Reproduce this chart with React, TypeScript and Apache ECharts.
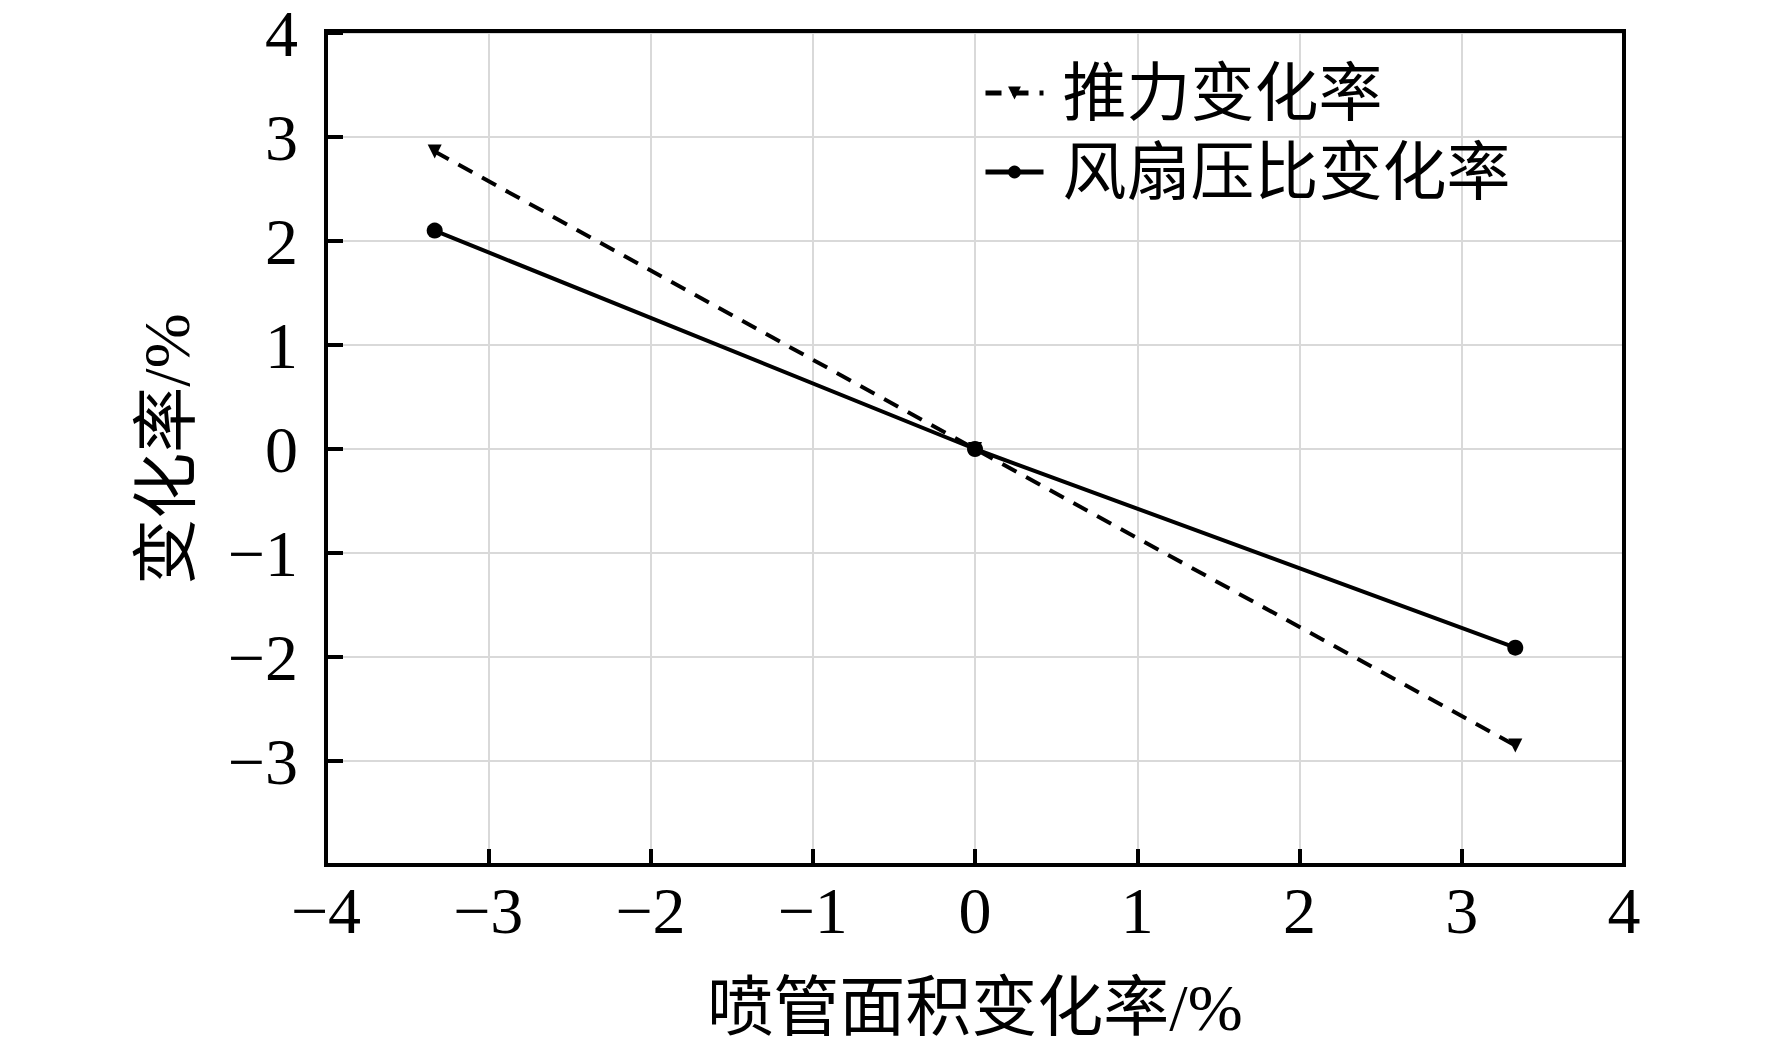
import React, { useEffect, useRef } from "react";
import * as echarts from "echarts";

const xValues = [-3.33, 0, 3.33];
const thrustChange = [2.86, 0, -2.85];
const fanPressureChange = [2.1, 0, -1.91];
const seriesNames = ["推力变化率", "风扇压比变化率"];
const xAxisName = "喷管面积变化率/%";
const yAxisName = "变化率/%";

const FONT = "'Liberation Serif', 'Noto Sans CJK SC', serif";

const fmt = (v: number) => (v < 0 ? "\u2212" + Math.abs(v) : String(v));

const GRID = { left: 326, top: 31, width: 1298, height: 834 };

export default function App() {
  const ref = useRef<HTMLDivElement>(null);
  useEffect(() => {
    if (!ref.current) return;
    const chart = echarts.init(ref.current, null, { renderer: "svg" });
    const zip = (ys: number[]) => xValues.map((x, i) => [x, ys[i]]);
    chart.setOption({
      animation: false,
      backgroundColor: "#fff",
      grid: {
        left: GRID.left,
        top: GRID.top,
        width: GRID.width,
        height: GRID.height,
        show: false,
        containLabel: false,
      },
      graphic: [
        {
          type: "rect",
          z: 100,
          silent: true,
          shape: { x: GRID.left, y: GRID.top, width: GRID.width, height: GRID.height },
          style: { fill: "none", stroke: "#000", lineWidth: 4 },
        },
      ],
      legend: {
        left: 978,
        top: 56,
        orient: "vertical",
        itemWidth: 58,
        itemHeight: 16,
        itemGap: 15,
        data: seriesNames,
        lineStyle: { width: 5 },
        textStyle: {
          fontFamily: FONT,
          fontSize: 64,
          lineHeight: 64,
          color: "#000",
          padding: [0, 0, 0, 14],
        },
      },
      xAxis: {
        type: "value",
        min: -4,
        max: 4,
        interval: 1,
        name: xAxisName,
        nameLocation: "middle",
        nameGap: 109,
        nameTextStyle: {
          fontFamily: FONT,
          fontSize: 66,
          color: "#000",
        },
        axisLine: { show: true, onZero: false, lineStyle: { color: "#000", width: 4 } },
        axisTick: { show: true, inside: true, length: 16, lineStyle: { color: "#000", width: 4 } },
        axisLabel: {
          margin: 12,
          fontFamily: FONT,
          fontSize: 66,
          color: "#000",
          formatter: fmt,
        },
        splitLine: { show: true, lineStyle: { color: "#d9d9d9", width: 2 } },
      },
      yAxis: {
        type: "value",
        min: -4,
        max: 4,
        interval: 1,
        name: yAxisName,
        nameLocation: "middle",
        nameGap: 127,
        nameTextStyle: {
          fontFamily: FONT,
          fontSize: 66,
          color: "#000",
        },
        axisLine: { show: true, onZero: false, lineStyle: { color: "#000", width: 4 } },
        axisTick: { show: true, inside: true, length: 17, lineStyle: { color: "#000", width: 4 } },
        axisLabel: {
          margin: 28,
          fontFamily: FONT,
          fontSize: 66,
          lineHeight: 48,
          color: "#000",
          formatter: (v: number) => (v === -4 ? "" : fmt(v)),
        },
        splitLine: { show: true, lineStyle: { color: "#d9d9d9", width: 2 } },
      },
      series: [
        {
          name: seriesNames[0],
          type: "line",
          data: zip(thrustChange),
          symbol: "triangle",
          symbolRotate: 180,
          symbolSize: 14,
          itemStyle: { color: "#000" },
          lineStyle: { color: "#000", width: 4, type: [16, 11] },
          z: 3,
        },
        {
          name: seriesNames[1],
          type: "line",
          data: zip(fanPressureChange),
          symbol: "circle",
          symbolSize: 16,
          itemStyle: { color: "#000" },
          lineStyle: { color: "#000", width: 4, type: "solid" },
          z: 4,
        },
      ],
    });
    return () => chart.dispose();
  }, []);
  return (
    <div
      ref={ref}
      style={{ position: "fixed", left: 0, top: 0, width: 1772, height: 1052, background: "#fff" }}
    />
  );
}
